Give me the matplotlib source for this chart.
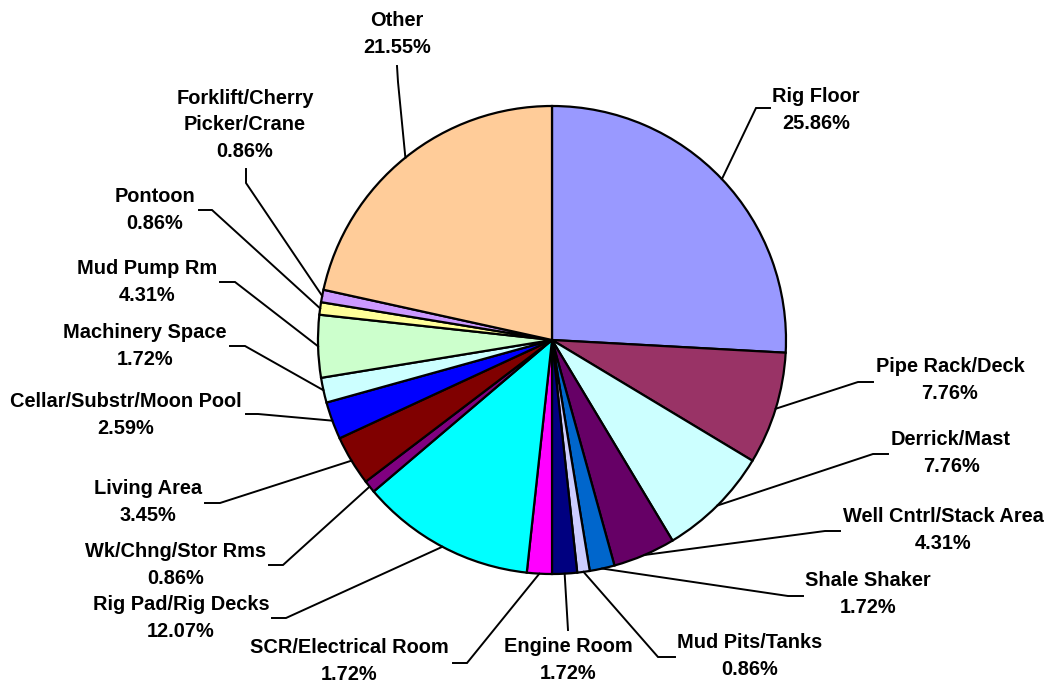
import matplotlib
matplotlib.use("Agg")
import matplotlib.pyplot as plt
import numpy as np

# ---- data ----
labels = ["Rig Floor", "Pipe Rack/Deck", "Derrick/Mast", "Well Cntrl/Stack Area",
          "Shale Shaker", "Mud Pits/Tanks", "Engine Room", "SCR/Electrical Room",
          "Rig Pad/Rig Decks", "Wk/Chng/Stor Rms", "Living Area",
          "Cellar/Substr/Moon Pool", "Machinery Space", "Mud Pump Rm", "Pontoon",
          "Forklift/Cherry\nPicker/Crane", "Other"]
values = [25.86, 7.76, 7.76, 4.31, 1.72, 0.86, 1.72, 1.72, 12.07, 0.86, 3.45,
          2.59, 1.72, 4.31, 0.86, 0.86, 21.55]
colors = ["#9999FF", "#993366", "#CCFFFF", "#660066", "#0066CC", "#CCCCFF",
          "#000080", "#FF00FF", "#00FFFF", "#800080", "#800000", "#0000FF",
          "#CCFFFF", "#CCFFCC", "#FFFF99", "#CC99FF", "#FFCC99"]

# ---- layout (pixel coords, y downward) ----
W, H = 1048, 683
CX, CY, R = 552, 340, 234
text_pos = [(816, 110), (950, 380), (951, 453), (943, 530), (868, 594),
            (750, 656), (568, 660), (349, 661), (181, 618), (176, 565),
            (148, 502), (126, 415), (145, 346), (147, 282), (155, 210),
            (245, 125), (397, 34)]
elbows = [(756, 108), (858, 382), (873, 454), (825, 531), (788, 596),
          (658, 657), (568, 630), (467, 663), (286, 618), (283, 565),
          (220, 503), (258, 414), (245, 346), (235, 282), (212, 210),
          (246, 183), (398, 82)]
ends = [(770, 108), (873, 382), (888, 454), (840, 531), (803, 596),
        (675, 657), (568, 630), (453, 663), (272, 618), (269, 565),
        (205, 503), (246, 414), (230, 346), (220, 282), (199, 210),
        (246, 169), (397, 66)]

plt.rcParams['font.family'] = ['Liberation Sans', 'DejaVu Sans']

fig = plt.figure(figsize=(W / 100, H / 100), dpi=100)
ax = fig.add_axes([0, 0, 1, 1])

wedges, _ = ax.pie(values, colors=colors, startangle=90, counterclock=False,
                   center=(CX, H - CY), radius=R,
                   wedgeprops=dict(edgecolor="black", linewidth=1.6))
ax.set_xlim(0, W)
ax.set_ylim(0, H)
ax.set_aspect("equal")
ax.axis("off")

for i, w in enumerate(wedges):
    mid = np.deg2rad((w.theta1 + w.theta2) / 2)
    sx = CX + R * np.cos(mid)
    sy = (H - CY) + R * np.sin(mid)
    ex, ey = elbows[i]
    tx, ty = ends[i]
    ax.plot([sx, ex, tx], [sy, H - ey, H - ty], color="black", lw=1.4,
            solid_joinstyle="miter", zorder=3)
    x, y = text_pos[i]
    ax.text(x, H - y, f"{labels[i]}\n{values[i]:.2f}%", ha="center",
            va="center", multialignment="center", fontsize=14.4,
            fontweight="bold", linespacing=1.5, color="black")

fig.savefig("out.png", dpi=100, facecolor="white")
